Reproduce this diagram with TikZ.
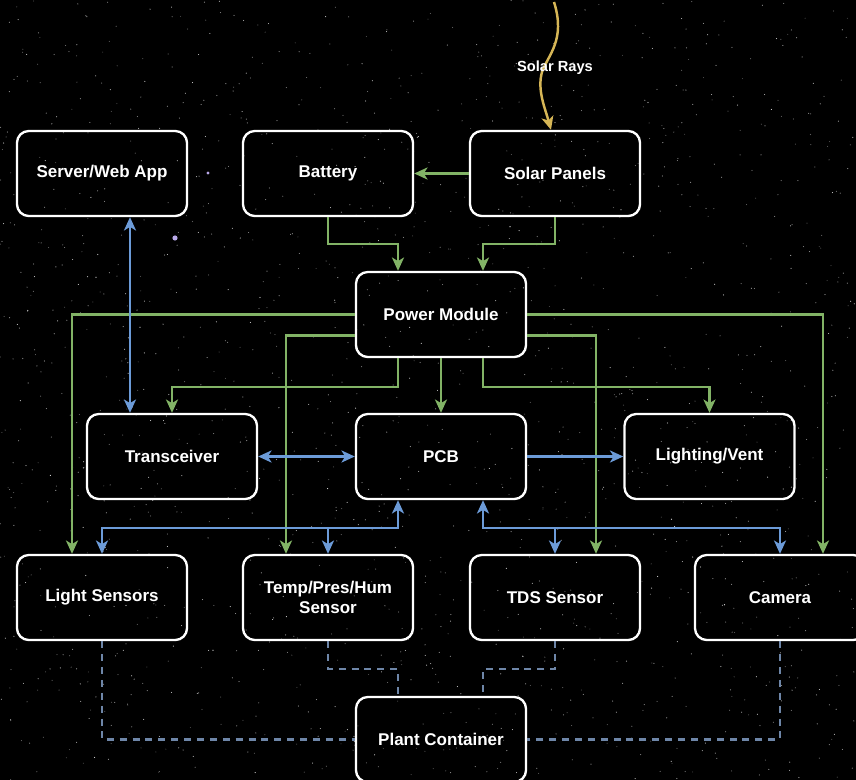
\documentclass[tikz,border=0pt]{standalone}
\usepackage{fontspec}
\setmainfont{Liberation Sans}
\usetikzlibrary{positioning,arrows.meta,calc}
\definecolor{pwrgreen}{HTML}{82B366}
\definecolor{sigblue}{HTML}{6C9BD8}
\definecolor{linkgrey}{HTML}{6E86A8}
\definecolor{raygold}{HTML}{D6B656}
\definecolor{starpurple}{HTML}{B8A8E8}

\begin{document}
\begin{tikzpicture}[x=0.03cm,y=-0.03cm,
  >={Stealth[length=4mm,width=3.6mm,inset=1.1mm]},
  blk/.style={draw=white,line width=2pt,rounded corners=10pt,minimum width=5.1cm,minimum height=2.55cm,
    text=white,font=\fontsize{14.5}{17}\selectfont\bfseries,align=center,inner sep=2pt},
  pwr/.style={->,pwrgreen,line width=2.1pt},
  sig/.style={->,sigblue,line width=2.1pt},
  lnk/.style={linkgrey,line width=2.1pt,dash pattern=on 6pt off 5pt},
  ray/.style={->,raygold,line width=2.1pt}]

  % night sky
  \fill[black] (0,0) rectangle (856,780);
  \useasboundingbox (0,0) rectangle (856,780);
  \pgfmathsetseed{4242}
  \foreach \s in {1,...,1600}{
    \pgfmathsetmacro\op{0.3+0.6*rnd}
    \fill[white,opacity=\op] (856*rnd,780*rnd) circle (0.45pt);
  }
  \fill[starpurple] (208,173) circle (1.3pt);
  \fill[starpurple] (175,238) circle (2.2pt);

  % top row
  \node[blk] (server)  at (102,173.5) {Server/Web App};
  \node[blk] (battery) at (328,173.5) {Battery};
  \node[blk] (solar)   at (555,173.5) {Solar Panels};
  \node[blk] (power)   at (441,314.5) {Power Module};

  % middle row
  \node[blk] (trans) at (172,456.5)   {Transceiver};
  \node[blk] (pcb)   at (441,456.5)   {PCB};
  \node[blk] (light) at (709.5,456.5) {Lighting/Vent};

  % sensors
  \node[blk] (lightsens) at (102,597.5) {Light Sensors};
  \node[blk] (temp)      at (328,597.5) {Temp/Pres/Hum\\Sensor};
  \node[blk] (tds)       at (555,597.5) {TDS Sensor};
  \node[blk] (cam)       at (780,597.5) {Camera};
  \node[blk] (plant)     at (441,739.5) {Plant Container};

  % solar rays
  \coordinate (sun) at (554,2);
  \draw[ray] (sun) .. controls (566,40) and (548,55) .. (542,72)
    .. controls (537,90) and (545,108) .. ($(solar.north)+(-4,0)$);
  \node[text=white,font=\fontsize{12.5}{14}\selectfont\bfseries] (raylbl) at (555,68) {Solar Rays};

  % power (green)
  \draw[pwr] (solar.west) -- (battery.east);
  \draw[pwr] (battery.south) -- ++(0,27) -| ($(power.north)+(-43,0)$);
  \draw[pwr] (solar.south) -- ++(0,27) -| ($(power.north)+(42,0)$);
  \draw[pwr] (power.west) -| ($(lightsens.north)+(-30,0)$);
  \draw[pwr] ($(power.west)+(0,21)$) -| ($(temp.north)+(-42,0)$);
  \draw[pwr] ($(power.south)+(-43,0)$) -- ++(0,29) -| (trans.north);
  \draw[pwr] (power.south) -- (pcb.north);
  \draw[pwr] ($(power.south)+(42,0)$) -- ++(0,29) -| (light.north);
  \draw[pwr] ($(power.east)+(0,21)$) -| ($(tds.north)+(41,0)$);
  \draw[pwr] (power.east) -| ($(cam.north)+(43,0)$);

  % data (blue)
  \draw[sig,<->] ($(server.south)+(28,0)$) -- ($(trans.north)+(-42,0)$);
  \draw[sig,<->] (trans.east) -- (pcb.west);
  \draw[sig] (pcb.east) -- (light.west);
  \coordinate (busL) at ($(pcb.south)+(-43,28)$);
  \coordinate (busR) at ($(pcb.south)+(42,28)$);
  \draw[sig,<->] (lightsens.north) |- (busL) -- ($(pcb.south)+(-43,0)$);
  \draw[sig] (busL -| temp.north) -- (temp.north);
  \draw[sig,<->] (cam.north) |- (busR) -- ($(pcb.south)+(42,0)$);
  \draw[sig] (busR -| tds.north) -- (tds.north);

  % container links
  \draw[lnk] (lightsens.south) |- (plant.west);
  \draw[lnk] (cam.south) |- (plant.east);
  \draw[lnk] (temp.south) -- ++(0,28) -| ($(plant.north)+(-43,0)$);
  \draw[lnk] (tds.south) -- ++(0,28) -| ($(plant.north)+(42,0)$);
\end{tikzpicture}
\end{document}
